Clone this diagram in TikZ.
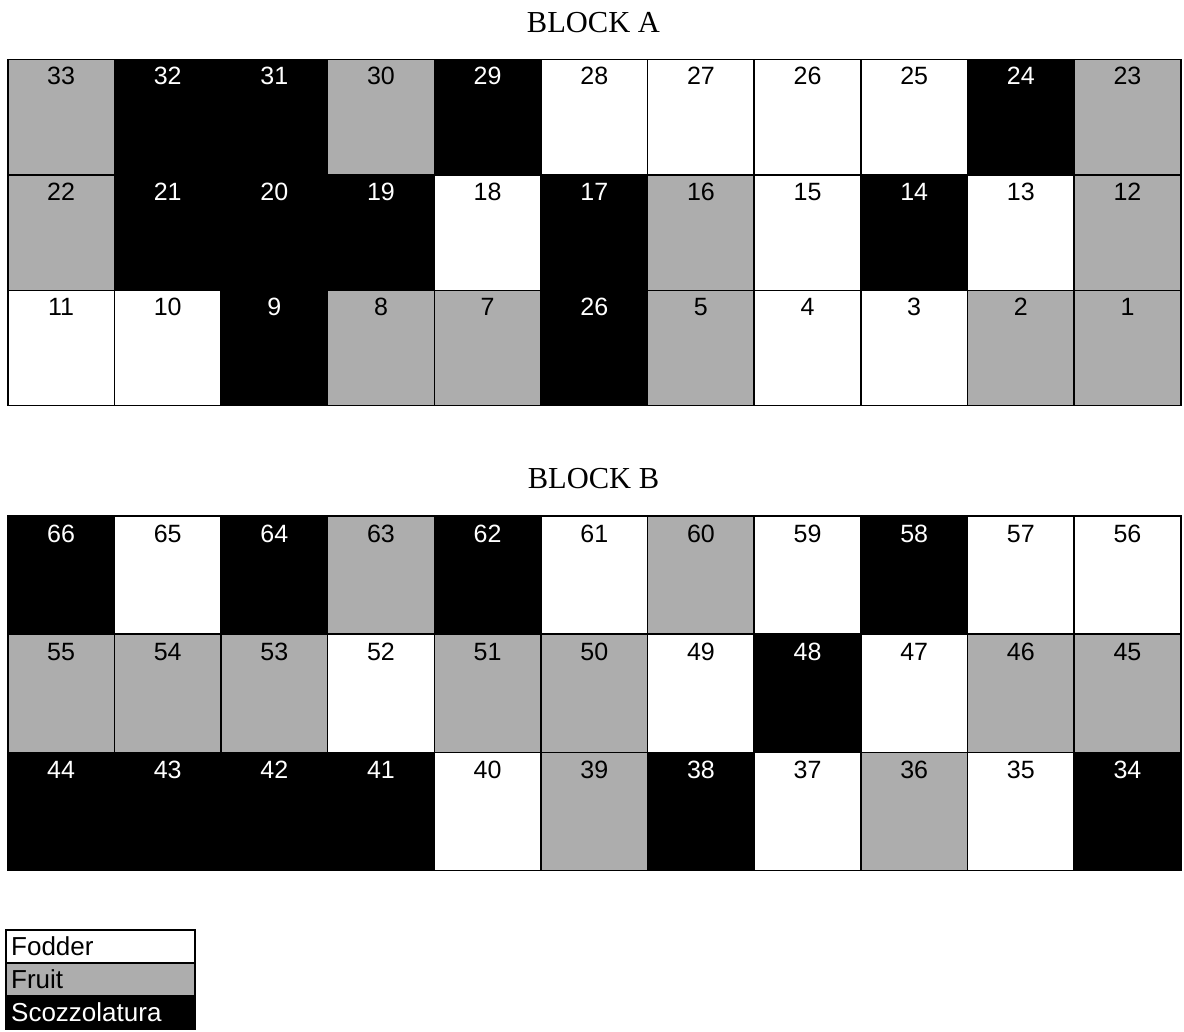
\documentclass[tikz,border=0pt]{standalone}
\usepackage{fontspec}
\setmainfont{Liberation Sans}
\newfontfamily\titlefont{Liberation Serif}
\definecolor{fruitgray}{gray}{0.68}
\begin{document}
\begin{tikzpicture}[x=1pt,y=-1pt,
  cellbase/.style={draw=black, line width=1.5pt, rectangle, anchor=north west, inner sep=0pt},
  cellW/.style={cellbase, fill=white},
  cellF/.style={cellbase, fill=fruitgray},
  cellS/.style={cellbase, fill=black},
  numW/.style={text=black},
  numF/.style={text=black},
  numS/.style={text=white},
  numbase/.style={font=\fontsize{25}{30}\selectfont, inner sep=0pt, anchor=base},
  title/.style={font=\titlefont\fontsize{30.5}{34}\selectfont, inner sep=0pt, anchor=base},
  legend/.style={draw=black, line width=1.5pt, anchor=north west, minimum width=189pt, minimum height=33pt, inner sep=0pt},
  legtext/.style={font=\fontsize{26}{30}\selectfont, anchor=base west, inner sep=0pt}
]
\useasboundingbox (0,0) rectangle (1184,1032);
\fill[white] (0,0) rectangle (1184,1032);

\node[title] (titleA) at (593.5,32.5) {BLOCK A};
\node[title] (titleB) at (593.5,488) {BLOCK B};

% Block A
\foreach \rowlist [count=\r] in {
  {33/F,32/S,31/S,30/F,29/S,28/W,27/W,26/W,25/W,24/S,23/F},
  {22/F,21/S,20/S,19/S,18/W,17/S,16/F,15/W,14/S,13/W,12/F},
  {11/W,10/W,9/S,8/F,7/F,26/S,5/F,4/W,3/W,2/F,1/F}}{
  \foreach \n/\t [count=\c] in \rowlist {
    \node[cell\t, minimum width=106.64pt, minimum height=115.33pt]
      (A-\r-\c) at ({7+(\c-1)*106.64},{59+(\r-1)*115.33}) {};
    \node[numbase, num\t] (tA-\r-\c) at ([yshift=-26pt]A-\r-\c.north) {\n};
  }
}

% Block B
\foreach \rowlist [count=\r] in {
  {66/S,65/W,64/S,63/F,62/S,61/W,60/F,59/W,58/S,57/W,56/W},
  {55/F,54/F,53/F,52/W,51/F,50/F,49/W,48/S,47/W,46/F,45/F},
  {44/S,43/S,42/S,41/S,40/W,39/F,38/S,37/W,36/F,35/W,34/S}}{
  \foreach \n/\t [count=\c] in \rowlist {
    \node[cell\t, minimum width=106.64pt, minimum height=118.33pt]
      (B-\r-\c) at ({7+(\c-1)*106.64},{515+(\r-1)*118.33}) {};
    \node[numbase, num\t] (tB-\r-\c) at ([yshift=-27pt]B-\r-\c.north) {\n};
  }
}

% Legend
\node[legend, fill=white] (legW) at (5,929) {};
\node[legend, fill=fruitgray] (legF) at (5,962) {};
\node[legend, fill=black] (legS) at (5,995) {};
\node[legtext, text=black] (legWt) at ([xshift=6pt,yshift=-9pt]legW.west) {Fodder};
\node[legtext, text=black] (legFt) at ([xshift=6pt,yshift=-9pt]legF.west) {Fruit};
\node[legtext, text=white] (legSt) at ([xshift=6pt,yshift=-9pt]legS.west) {Scozzolatura};
\end{tikzpicture}
\end{document}
